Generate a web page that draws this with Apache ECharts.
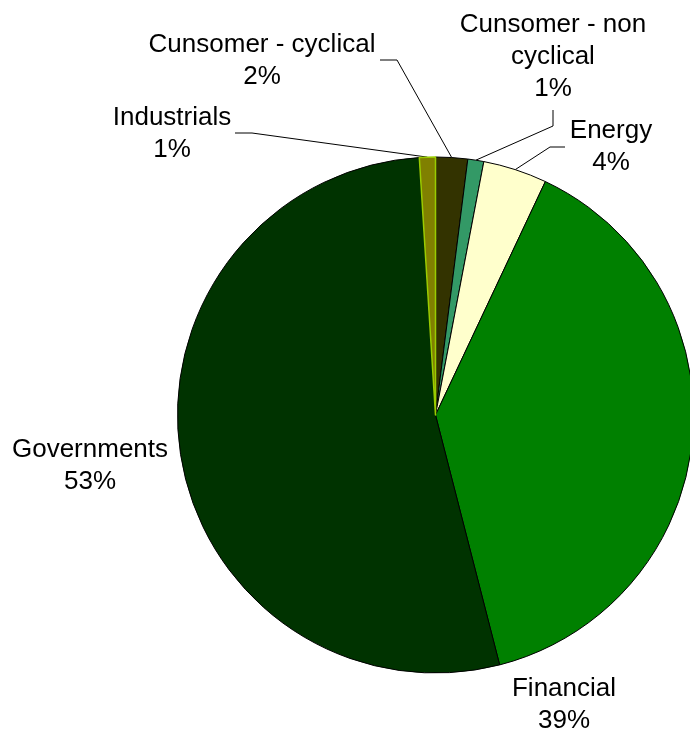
<!DOCTYPE html>
<html>
<head>
<meta charset="utf-8">
<script src="https://cdn.jsdelivr.net/npm/echarts@6/dist/echarts.min.js"></script>
<style>
  html, body { margin: 0; padding: 0; background: #ffffff; }
  #chart { width: 690px; height: 731px; }
</style>
</head>
<body>
<div id="chart"></div>
<script>
// Sector breakdown of the portfolio (percent of total)
const categories = [
  'Cunsomer - cyclical',
  'Cunsomer - non\ncyclical',
  'Energy',
  'Financial',
  'Governments',
  'Industrials'
];
const shares = [2, 1, 4, 39, 53, 1];

// Slice fills, in the same order as the categories
const sliceColors = ['#333300', '#339966', '#FFFFCC', '#008000', '#003300', '#808000'];
const sliceBorders = ['#000000', '#000000', '#000000', '#000000', '#000000', '#99CC00'];

// Where each label block sits and how its leader line bends (pixels)
const labelPlacement = [
  { x: 262, y: 61,  line: [[397, 60], [380, 60]] },
  { x: 553, y: 57,  line: [[553, 126], [553, 110]] },
  { x: 611, y: 147, line: [[550, 147], [565, 147]] },
  { x: 564, y: 705, line: null },
  { x: 90,  y: 466, line: null },
  { x: 172, y: 134, line: [[252, 133], [235, 133]] }
];

const chart = echarts.init(document.getElementById('chart'), null, { renderer: 'canvas' });

const seriesData = categories.map((name, i) => ({
  name: name,
  value: shares[i],
  itemStyle: {
    color: sliceColors[i],
    borderColor: sliceBorders[i],
    borderWidth: i === 5 ? 1.5 : 1
  },
  labelLine: { show: !!labelPlacement[i].line }
}));

chart.setOption({
  backgroundColor: '#ffffff',
  animation: false,
  series: [{
    type: 'pie',
    center: [435.5, 415],
    radius: 258,
    startAngle: 90,
    clockwise: true,
    avoidLabelOverlap: false,
    silent: true,
    data: seriesData,
    label: {
      show: true,
      position: 'outside',
      formatter: p => p.name + '\n' + Math.round(p.value) + '%',
      fontFamily: 'Liberation Sans, Arial, sans-serif',
      fontSize: 26,
      lineHeight: 32,
      color: '#000000',
      align: 'center'
    },
    labelLine: {
      show: true,
      length: 10,
      length2: 10,
      smooth: false,
      lineStyle: { color: '#000000', width: 1 }
    },
    labelLayout: function (params) {
      const place = labelPlacement[params.dataIndex];
      const out = {
        x: place.x,
        y: place.y,
        align: 'center',
        verticalAlign: 'middle'
      };
      if (place.line && params.labelLinePoints) {
        const edge = params.labelLinePoints[0];
        out.labelLinePoints = [edge, place.line[0], place.line[1]];
      }
      return out;
    }
  }]
});
</script>
</body>
</html>
